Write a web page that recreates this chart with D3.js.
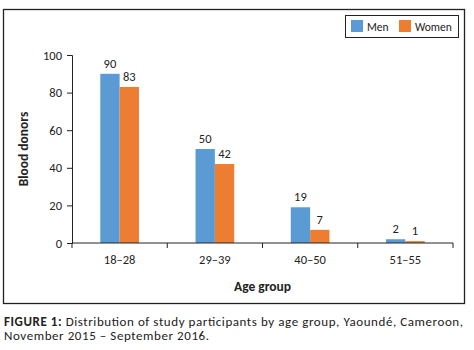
<!DOCTYPE html>
<html><head><meta charset="utf-8">
<script src="https://cdn.jsdelivr.net/npm/d3@7"></script>
<style>body{margin:0;background:#fff}svg{display:block}text{font-family:Carlito,Lato,"Open Sans",sans-serif;fill:#222}</style>
</head><body><svg id="c" width="474" height="350"></svg>
<script>
const categories = ["18\u201328","29\u201339","40\u201350","51\u201355"];
const seriesNames = ["Men","Women"];
const men = [90,50,19,2];
const women = [83,42,7,1];
const yTicks = [0,20,40,60,80,100];
const colors = ["#5B9BD5","#ED7D31"];

const svg = d3.select("#c");
svg.append("rect").attr("x",3.5).attr("y",9.5).attr("width",461).attr("height",294)
  .attr("fill","none").attr("stroke","#222").attr("stroke-width",1.3);

const L=72,R=453,T=55,B=243;
const x = d3.scaleBand().domain(categories).range([L,R]).paddingInner(0.594).paddingOuter(0.297);
const y = d3.scaleLinear().domain([0,100]).range([B,T]);
const xs = d3.scaleBand().domain(seriesNames).range([0,x.bandwidth()]);
const data = categories.map((c,i)=>({c, vals:[men[i],women[i]]}));

const g = svg.append("g");
const groups = g.selectAll("g.grp").data(data).join("g").attr("transform",d=>`translate(${x(d.c)},0)`);
groups.selectAll("rect").data(d=>d.vals.map((v,j)=>({v,s:seriesNames[j],j}))).join("rect")
  .attr("x",d=>xs(d.s)).attr("width",xs.bandwidth()).attr("y",d=>y(d.v)).attr("height",d=>B-y(d.v))
  .attr("fill",d=>colors[d.j]);
groups.selectAll("text.v").data(d=>d.vals.map((v,j)=>({v,s:seriesNames[j],j}))).join("text")
  .attr("class","v").attr("x",d=>xs(d.s)+xs.bandwidth()/2).attr("y",d=>y(d.v)-6)
  .attr("text-anchor","middle").attr("font-size",12.5).text(d=>d.v);

const ya = svg.append("g").attr("transform",`translate(${L},0)`)
  .call(d3.axisLeft(y).tickValues(yTicks).tickSize(5).tickPadding(5));
const xa = svg.append("g").attr("transform",`translate(0,${B})`)
  .call(d3.axisBottom(x).tickSize(0).tickPadding(12));
const bx = d3.range(categories.length+1).map(i=>L+i*x.step());
xa.selectAll("line.b").data(bx).join("line").attr("class","b").attr("x1",d=>d).attr("x2",d=>d).attr("y1",0).attr("y2",5).attr("stroke","#222");
xa.select(".domain").attr("d",`M${L},0H${R}`);
[ya,xa].forEach(a=>{a.selectAll(".domain,line").attr("stroke","#222");a.selectAll("text").attr("font-size",12.5).attr("font-family","Carlito,Lato,'Open Sans',sans-serif").attr("fill","#222");});

svg.append("text").attr("transform",`translate(28,${(T+B)/2}) rotate(-90)`).attr("text-anchor","middle")
  .attr("font-size",13.5).attr("font-weight","bold").text("Blood donors");
svg.append("text").attr("x",(L+R)/2).attr("y",291).attr("text-anchor","middle")
  .attr("font-size",13.5).attr("font-weight","bold").text("Age group");

// legend
const lg = svg.append("g");
lg.append("rect").attr("x",345.5).attr("y",15.5).attr("width",113).attr("height",22).attr("fill","#fff").attr("stroke","#222").attr("stroke-width",1);
const lx=[351,399];
seriesNames.forEach((s,i)=>{
  lg.append("rect").attr("x",lx[i]).attr("y",20).attr("width",12).attr("height",12).attr("fill",colors[i]);
  lg.append("text").attr("x",lx[i]+16).attr("y",30.5).attr("font-size",11.5).text(s);
});

// caption
const cap = svg.append("text").attr("x",4).attr("y",326).attr("font-size",13)
  .attr("textLength",459).attr("lengthAdjust","spacing");
cap.append("tspan").attr("font-weight","bold").text("FIGURE 1:");
cap.append("tspan").text(" Distribution of study participants by age group, Yaound\u00e9, Cameroon,");
svg.append("text").attr("x",4).attr("y",339.5).attr("font-size",13)
  .attr("textLength",205).attr("lengthAdjust","spacing").text("November 2015 \u2013 September 2016.");
</script></body></html>
